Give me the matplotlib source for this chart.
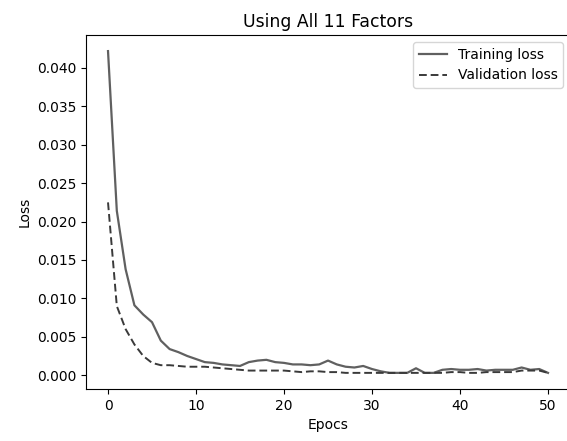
import matplotlib
matplotlib.use("Agg")
import matplotlib.pyplot as plt
from matplotlib.ticker import MultipleLocator

epochs = list(range(51))
train_loss = [0.0422, 0.0214, 0.0138, 0.0091, 0.0079, 0.0069, 0.0045, 0.0034, 0.0030, 0.0025,
              0.0021, 0.0017, 0.0016, 0.0014, 0.0013, 0.0012, 0.0017, 0.0019, 0.0020, 0.0017,
              0.0016, 0.0014, 0.0014, 0.0013, 0.0014, 0.0019, 0.0014, 0.0011, 0.0010, 0.0012,
              0.0008, 0.0005, 0.0003, 0.0003, 0.0003, 0.0009, 0.0003, 0.0003, 0.0007, 0.0008,
              0.0007, 0.0007, 0.0008, 0.0006, 0.0007, 0.0007, 0.0007, 0.0010, 0.0007, 0.0008,
              0.0003]
val_loss = [0.0225, 0.0090, 0.0060, 0.0040, 0.0025, 0.0016, 0.0013, 0.0013, 0.0012, 0.0011,
            0.0011, 0.0011, 0.0010, 0.0009, 0.0008, 0.0007, 0.0006, 0.0006, 0.0006, 0.0006,
            0.0006, 0.0005, 0.0004, 0.0005, 0.0005, 0.0004, 0.0004, 0.0003, 0.0003, 0.0003,
            0.0003, 0.0003, 0.0003, 0.0003, 0.0003, 0.0003, 0.0003, 0.0003, 0.0003, 0.0004,
            0.0004, 0.0003, 0.0003, 0.0004, 0.0004, 0.0004, 0.0004, 0.0006, 0.0006, 0.0006,
            0.0003]

fig, ax = plt.subplots(figsize=(5.67, 4.41), dpi=100)
ax.plot(epochs, train_loss, color="#606060", lw=1.6, label="Training loss")
ax.plot(epochs, val_loss, color="#3a3a3a", lw=1.4, ls=(0, (4, 2)), label="Validation loss")
ax.yaxis.set_major_locator(MultipleLocator(0.005))
ax.set_title("Using All 11 Factors", fontsize=12.4)
ax.set_xlabel("Epocs")
ax.set_ylabel("Loss")
ax.legend(loc="upper right")
fig.subplots_adjust(left=0.1517, right=1.0053, top=0.9206, bottom=0.118)
fig.savefig("out.png")
